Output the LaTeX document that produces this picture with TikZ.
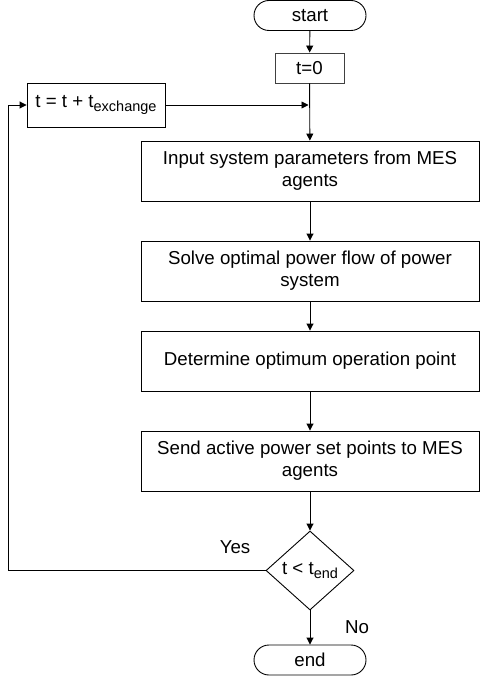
\documentclass[tikz,border=0pt]{standalone}
\usepackage{fontspec}
\setmainfont{Liberation Sans}
\usetikzlibrary{shapes.geometric,arrows.meta,calc}
\newcommand\mysub[1]{\raisebox{-3.5pt}{\fontsize{14.5}{14.5}\selectfont #1}}
\begin{document}
\begin{tikzpicture}[x=1pt,y=-1pt,
  every node/.style={font=\fontsize{18.7}{22}\selectfont},
  box/.style={draw=black,line width=0.9pt,inner sep=2pt,align=center},
  term/.style={draw=black,line width=0.9pt,rounded corners=15pt,minimum width=112pt,minimum height=30pt,inner sep=0pt},
  decis/.style={draw=black,line width=0.9pt,diamond,aspect=1.1,minimum width=88pt,minimum height=79pt,inner sep=0pt},
  conn/.style={line width=0.9pt,-{Triangle[length=7pt,width=7pt]}},
  lbl/.style={inner sep=0pt}]
\useasboundingbox (0,0) rectangle (480,676);
\node[term] (start) at (310,15.5) {start};
\node[box,draw=black!75,minimum width=69pt,minimum height=30pt] (t0) at (309.5,68) {t=0};
\node[box,minimum width=138pt,minimum height=44pt] (ex) at (96,105) {t = t + t\mysub{exchange}};
\node[box,minimum width=338pt,minimum height=60pt] (inp) at (310,171) {Input system parameters from MES\\agents};
\node[box,minimum width=338pt,minimum height=60pt] (solve) at (310,271) {Solve optimal power flow of power\\system};
\node[box,minimum width=338pt,minimum height=60pt] (det) at (310,361) {Determine optimum operation point};
\node[box,minimum width=338pt,minimum height=60pt] (send) at (310,461) {Send active power set points to MES\\agents};
\node[decis] (dec) at (310,570.5) {t < t\mysub{end}};
\node[term] (end) at (310,660) {end};
\node[lbl] (yes) at (235,547) {Yes};
\node[lbl] (no) at (357,627) {No};
\coordinate (loopc) at (8,570.5);
\draw[conn] (start) -- (t0);
\draw[conn] (t0) -- (inp);
\draw[conn] (ex.east) -- ($(ex.east -| t0.south)+(-1,0)$);
\draw[conn] (inp) -- (solve);
\draw[conn] (solve) -- (det);
\draw[conn] (det) -- (send);
\draw[conn] (send) -- (dec);
\draw[conn] (dec) -- (end);
\draw[conn] (dec.west) -- (loopc) |- (ex.west);
\end{tikzpicture}
\end{document}
